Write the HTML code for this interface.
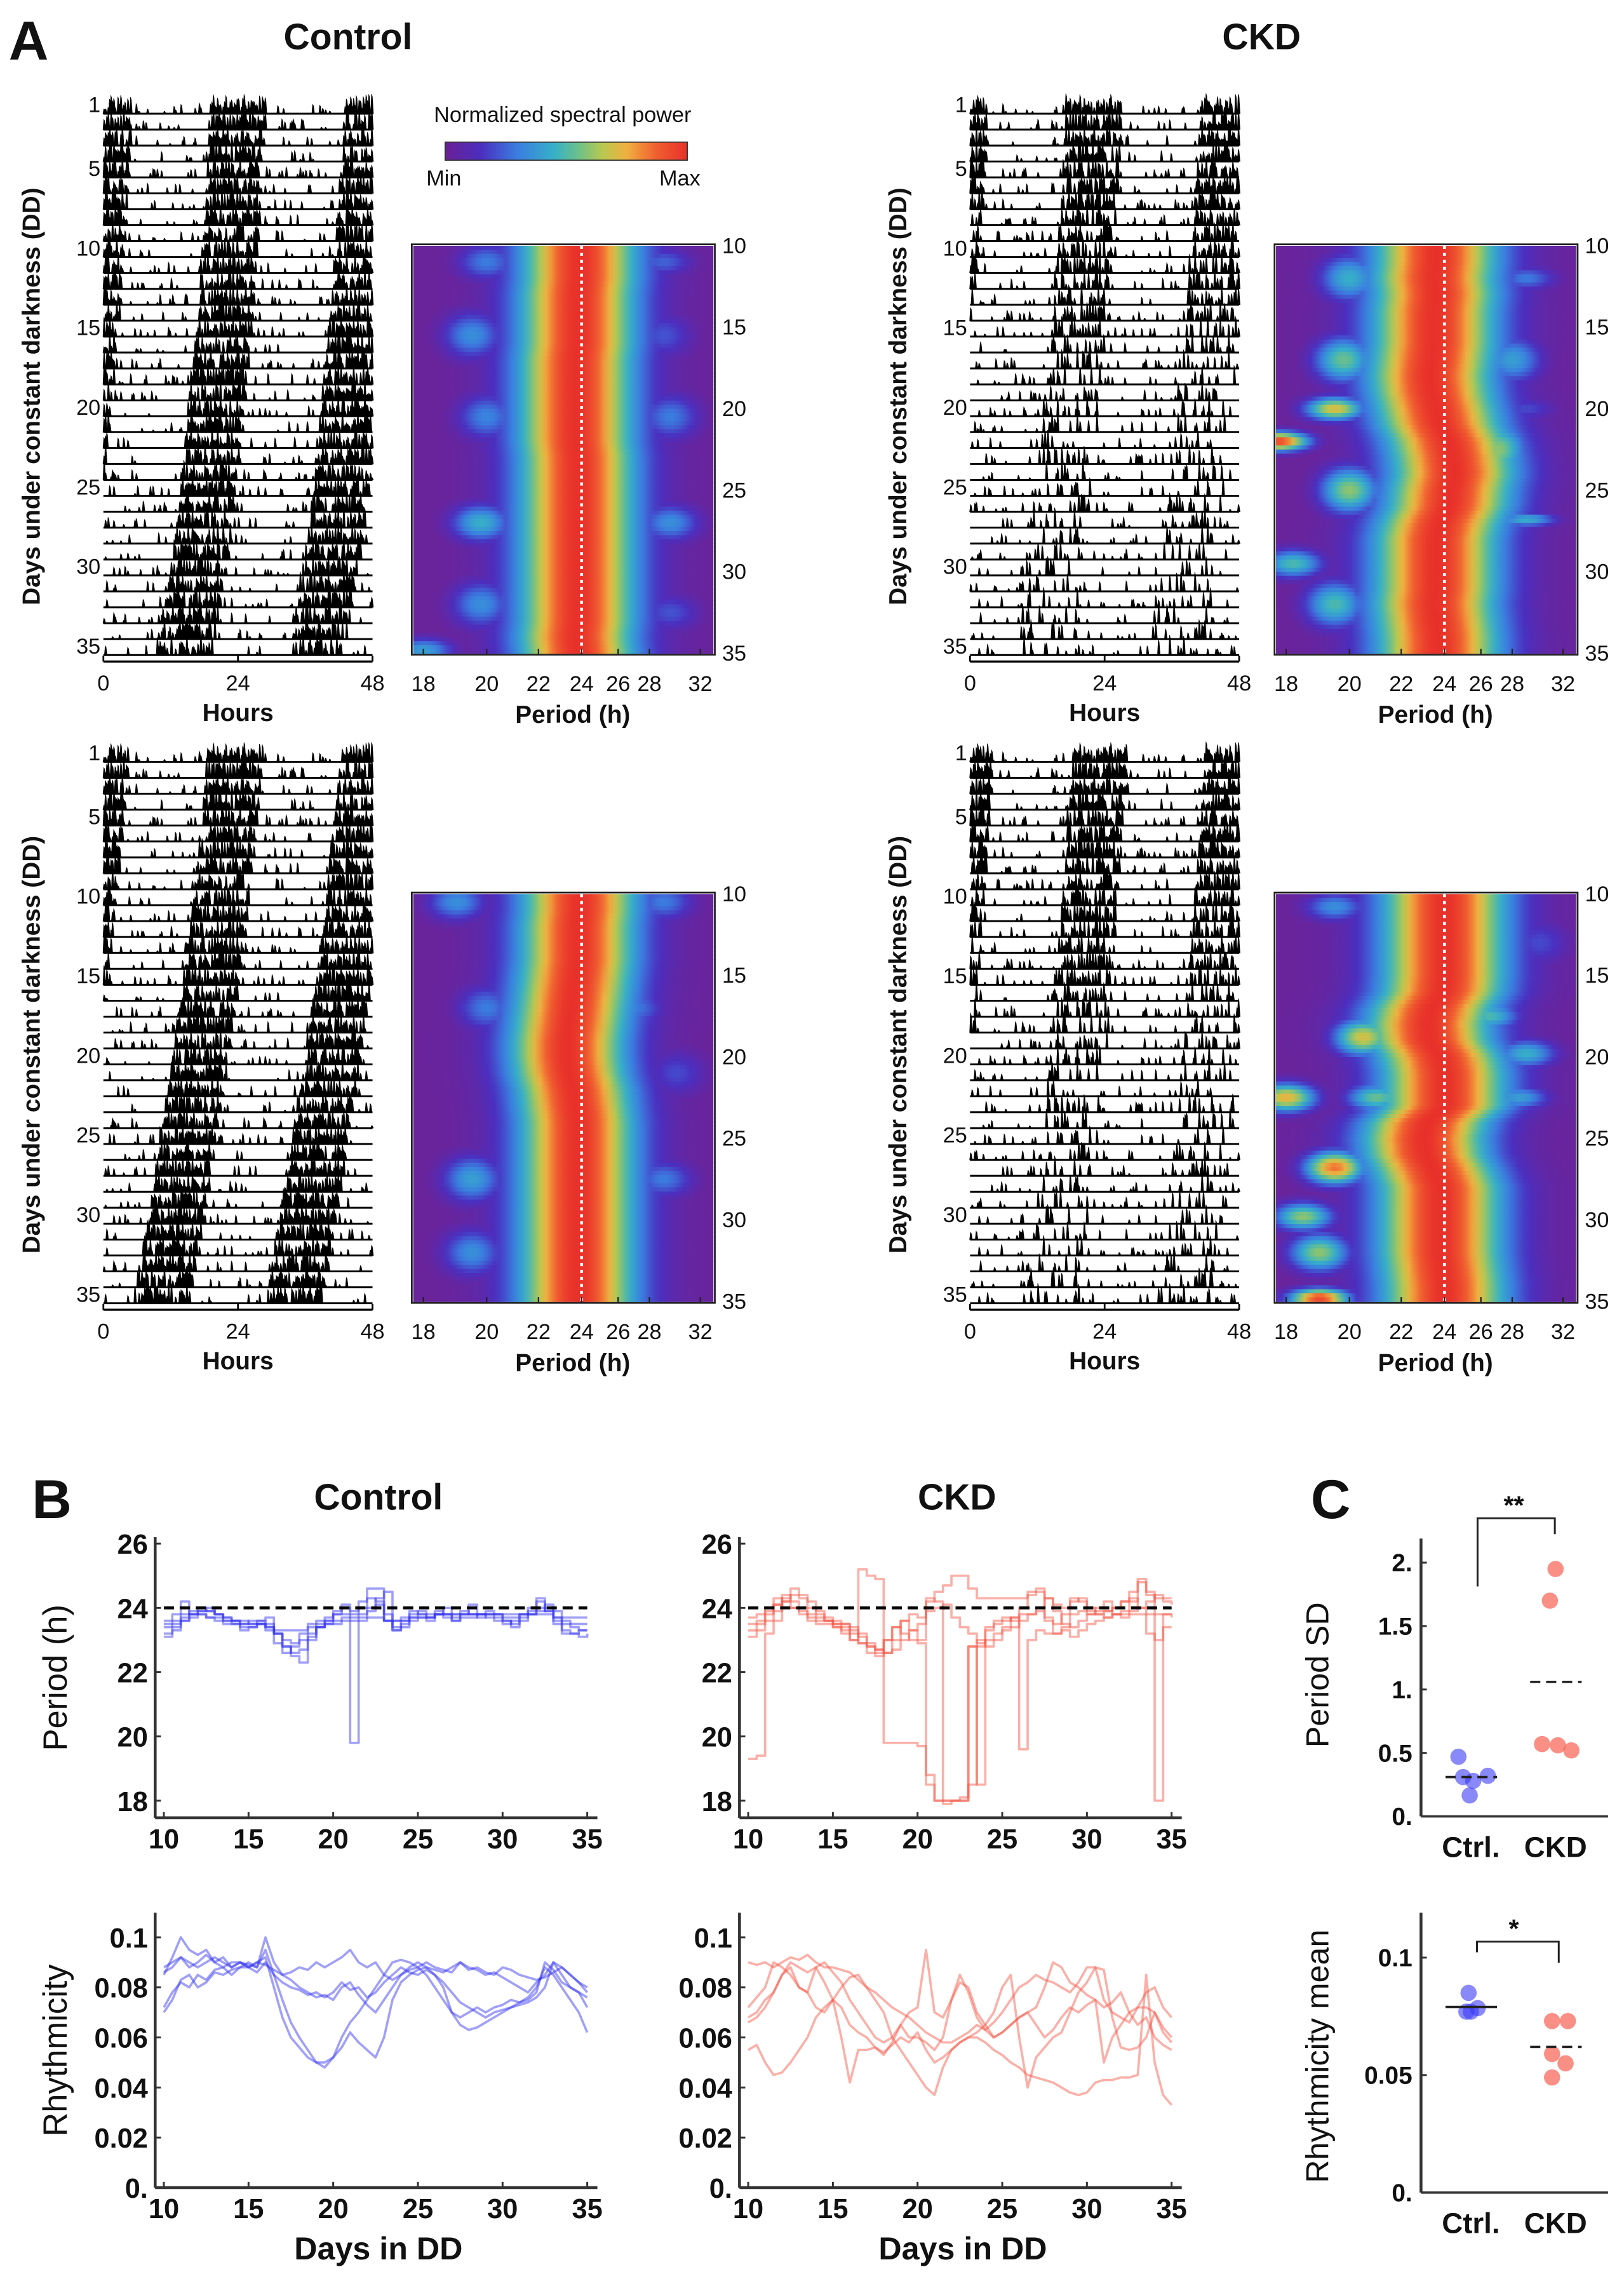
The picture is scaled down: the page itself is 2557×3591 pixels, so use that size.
<!DOCTYPE html>
<html><head><meta charset="utf-8">
<style>
html,body{margin:0;padding:0;background:#fff;}
svg{display:block;}
text{font-family:"Liberation Sans",Arial,sans-serif;fill:#111;}
.b{font-weight:bold;}
</style></head>
<body>
<svg id="fig" xmlns="http://www.w3.org/2000/svg" width="2557" height="3591" viewBox="0 0 1120 1573" preserveAspectRatio="none">
<rect x="0" y="0" width="1120" height="1573" fill="#fff"/>
<defs>
<linearGradient id="cbar" x1="0" x2="1" y1="0" y2="0">
<stop offset="0" stop-color="#6a1f96"/><stop offset="0.15" stop-color="#4a2fc0"/><stop offset="0.3" stop-color="#3a7ee0"/><stop offset="0.45" stop-color="#36b0c8"/><stop offset="0.55" stop-color="#6cc08a"/><stop offset="0.65" stop-color="#b8c850"/><stop offset="0.75" stop-color="#f0b040"/><stop offset="0.87" stop-color="#f06030"/><stop offset="1" stop-color="#e8302a"/>
</linearGradient>
</defs>
<text x="6" y="41" font-size="38" class="b">A</text>
<text x="240" y="34" font-size="25" class="b" text-anchor="middle">Control</text>
<text x="870" y="34" font-size="25" class="b" text-anchor="middle">CKD</text>
<text x="388" y="84" font-size="15" text-anchor="middle">Normalized spectral power</text>
<rect x="307" y="98" width="167" height="12.5" fill="url(#cbar)" stroke="#333" stroke-width="0.8"/>
<text x="294" y="128" font-size="15">Min</text>
<text x="483" y="128" font-size="15" text-anchor="end">Max</text>

<text x="22" y="1047" font-size="38" class="b">B</text>
<text x="261" y="1041" font-size="25" class="b" text-anchor="middle">Control</text>
<text x="660" y="1041" font-size="25" class="b" text-anchor="middle">CKD</text>
<text x="904" y="1047" font-size="38" class="b">C</text>
<g id="charts"></g>
</svg>
<script>
// ---------- DATA ----------
const actoOnsetCtrl1=[19,18.8,18.7,18.5,18.3,18.2,18,17.8,17.6,17.4,17.2,17,16.8,16.6,16.4,16,15.8,15.5,15.2,15,14.8,14.5,14.3,14,13.7,13.3,13,12.7,12.4,12,11.5,11,10.5,10,9.5];
const actoOnsetCtrl2=[18.5,18.2,18,17.7,17.4,17,16.8,16.5,16.2,16,15.7,15.4,15,14.6,14.2,13.8,13.4,13,12.6,12.2,11.8,11.4,11,10.5,10,9.6,9.2,8.8,8.4,8,7.5,7,6.5,6,5.5];
const actoOnsetCkd1=[17,17,16.8,16.6,16.5,16.3,16,15.8,15.6,15.4,15.2,15,14.8,14.6,14.3,14,13.8,13.5,13.2,13,12.8,12.5,12.2,12,11.7,11.4,11,10.7,10.4,10,9.7,9.4,9,8.7,8.4];
const actoOnsetCkd2=[18,17.8,17.6,17.4,17.2,17,16.8,16.6,16.4,16.2,16,15.8,15.6,15.4,15.2,15,14.8,14.6,14.4,14.2,14,13.7,13.4,13.1,12.8,12.5,12.2,11.9,11.6,11.3,11,10.7,10.4,10.1,9.8];
const actoDensCtrl1=[0.85,0.85,0.85,0.85,0.85,0.85,0.85,0.85,0.85,0.85,0.85,0.85,0.85,0.85,0.85,0.85,0.85,0.85,0.85,0.85,0.85,0.85,0.85,0.85,0.85,0.85,0.8,0.8,0.8,0.8,0.8,0.8,0.8,0.8,0.75];
const actoDensCtrl2=[0.85,0.85,0.85,0.85,0.85,0.85,0.85,0.85,0.85,0.85,0.85,0.85,0.85,0.85,0.85,0.85,0.85,0.85,0.85,0.85,0.85,0.85,0.85,0.85,0.85,0.85,0.85,0.85,0.85,0.85,0.85,0.85,0.85,0.85,0.85];
const actoDensCkd1=[0.85,0.85,0.85,0.85,0.8,0.8,0.8,0.75,0.75,0.7,0.6,0.6,0.55,0.5,0.45,0.4,0.35,0.32,0.3,0.28,0.28,0.25,0.25,0.26,0.26,0.25,0.25,0.25,0.26,0.26,0.25,0.25,0.25,0.22,0.22];
const actoDensCkd2=[0.9,0.9,0.85,0.85,0.85,0.85,0.85,0.8,0.8,0.75,0.7,0.65,0.6,0.55,0.55,0.5,0.45,0.4,0.35,0.32,0.3,0.28,0.28,0.28,0.25,0.25,0.25,0.25,0.25,0.25,0.25,0.26,0.26,0.25,0.25];

const hmPeak1=[23.9,23.9,23.9,23.8,23.8,23.8,23.8,23.7,23.7,23.7,23.7,23.7,23.7,23.8,23.8,23.8,23.8,23.8,23.8,23.8,23.8,23.8,23.8,23.8,23.7,23.8];
const hmPeak2=[23.9,23.9,23.8,23.8,23.8,23.7,23.6,23.5,23.4,23.3,23.3,23.4,23.6,23.7,23.8,23.8,23.8,23.8,23.8,23.8,23.8,23.8,23.8,23.8,23.8,23.8];
const hmPeak3=[23.6,23.6,23.5,23.6,23.5,23.5,23.5,23.4,23.3,23.4,23.6,23.8,24.2,24.4,24.5,24.3,24.2,23.8,23.6,23.6,23.6,23.6,23.5,23.6,23.7,23.7];
const hmPeak4=[24,24,24,24,24,24,23.9,23.4,23.2,23.3,23.8,24,24,24,23.2,23.0,23.1,23.5,23.8,23.8,23.8,23.8,23.8,23.9,24,24];
const hmBlobDay1=[11,15.5,20.5,27,32,11,15.5,20.5,27,32.5,34.8];
const hmBlobPer1=[20,19.5,20,19.8,19.8,29,29,29.5,29.5,29.5,18];
const hmBlobAmp1=[0.3,0.35,0.32,0.45,0.35,0.25,0.22,0.3,0.35,0.22,0.4];
const hmBlobSd1=[0.8,1,1,0.8,1,0.6,1,1,0.8,0.8,0.5];
const hmBlobDay2=[10.5,17,27.5,32,10.5,27.5,17,21];
const hmBlobPer2=[19,20,19.5,19.5,29,29,27,30];
const hmBlobAmp2=[0.35,0.3,0.4,0.35,0.3,0.3,0.3,0.2];
const hmBlobSd2=[0.8,1,1,1,0.8,0.8,0.8,1];
const hmBlobDay3=[12,17,20,22,25,29.5,32,17,22.5,26.8,20,12];
const hmBlobPer3=[20,19.8,19.5,17.8,20,18.2,19.5,28,27,29,29,29];
const hmBlobAmp3=[0.45,0.55,0.72,0.95,0.6,0.5,0.5,0.4,0.6,0.45,0.2,0.3];
const hmBlobSd3=[1,1,0.5,0.4,1,0.6,1,1,1.2,0.3,0.5,0.5];
const hmBlobDay4=[10.8,18.8,22.5,22.5,26.8,26.8,29.8,32,34.8,17.5,19.8,22.5,13];
const hmBlobPer4=[19.5,20.5,18,21,19.5,22,18.5,19,19,26.5,29,28.5,30];
const hmBlobAmp4=[0.35,0.7,0.75,0.55,0.85,0.6,0.6,0.6,0.95,0.5,0.45,0.4,0.2];
const hmBlobSd4=[0.6,0.8,0.6,0.6,0.7,0.8,0.6,0.8,0.4,0.6,0.6,0.5,1];
const hmPeriodTicks=[18,20,22,24,26,28,32];
const hmDayTicks=[10,15,20,25,30,35];
const actoDayTicks=[1,5,10,15,20,25,30,35];
const actoHourTicks=[0,24,48];

const periodCtrl1=[23.2,23.4,23.7,23.8,23.8,23.7,23.6,23.5,23.5,23.3,23.4,23.5,23.3,22.9,22.6,22.8,23.2,23.5,23.6,23.7,23.8,23.8,19.8,23.7,23.9,24.3,24.5,23.3,23.4,23.6,23.7,23.7,23.8,23.7,23.6,23.7,23.7,23.8,23.7,23.6,23.5,23.6,23.7,23.8,23.9,24.1,23.9,23.6,23.4,23.3,23.3];
const periodCtrl2=[23.6,23.8,24.2,23.8,23.9,24.0,23.8,23.6,23.6,23.5,23.6,23.6,23.4,23.2,22.8,22.5,22.3,23.0,23.5,23.6,23.8,24.0,23.8,24.2,24.6,24.6,23.6,23.3,23.5,23.8,23.9,23.7,23.8,24.0,23.6,23.8,24.1,23.8,23.8,23.7,23.6,23.4,23.6,23.8,24.2,23.9,23.5,23.2,23.2,23.3,23.3];
const periodCtrl3=[23.4,23.5,23.6,23.7,23.8,23.7,23.7,23.6,23.6,23.5,23.5,23.5,23.5,23.3,23.3,23.3,23.3,23.4,23.4,23.5,23.5,23.6,23.6,23.6,23.7,23.7,23.6,23.6,23.7,23.7,23.7,23.7,23.8,23.8,23.8,23.8,23.8,23.8,23.8,23.8,23.8,23.8,23.8,23.8,23.8,23.8,23.7,23.7,23.7,23.7,23.7];
const periodCtrl4=[23.1,23.3,23.6,23.9,24.0,23.9,23.8,23.7,23.5,23.4,23.4,23.6,23.7,23.2,22.8,22.6,22.7,23.1,23.4,23.6,23.9,24.1,23.9,24.0,24.3,24.2,23.6,23.4,23.6,23.9,23.8,23.6,23.9,23.8,23.7,23.9,23.8,23.7,23.9,23.8,23.6,23.5,23.8,24.0,24.3,24.0,23.6,23.3,23.2,23.1,23.2];
const periodCtrl5=[23.5,23.6,23.8,23.8,23.9,23.9,23.8,23.7,23.6,23.6,23.5,23.5,23.4,23.2,23.0,22.9,23.0,23.2,23.4,23.5,23.6,23.7,23.7,23.8,24.0,24.1,23.8,23.6,23.6,23.7,23.8,23.8,23.8,23.8,23.8,23.8,23.8,23.8,23.8,23.8,23.7,23.7,23.8,23.9,24.0,23.9,23.7,23.5,23.5,23.5,23.5];
const periodCkd1=[19.3,19.4,23.2,23.6,24.2,24.4,24.3,24.0,23.8,23.6,23.5,23.5,23.4,23.2,22.9,22.7,22.6,22.7,23.0,23.3,23.5,24.2,24.5,24.7,25.0,25.0,24.6,24.3,24.3,24.3,24.3,24.3,24.3,24.4,24.6,24.3,24.1,24.0,24.2,24.3,24.0,23.9,23.9,24.0,24.2,24.5,24.8,24.4,24.3,24.3,24.3];
const periodCkd2=[23.5,23.6,23.9,24.3,24.2,24.0,23.9,23.7,23.6,23.6,23.5,23.3,23.0,25.2,25.0,24.9,19.8,19.8,19.8,19.8,19.7,18.8,18.0,18.0,18.0,18.1,22.8,22.8,23.0,23.2,23.3,23.4,23.6,23.8,23.9,23.6,23.2,23.3,23.1,23.3,23.5,23.6,23.7,23.8,23.8,23.8,23.8,23.8,23.8,23.8,23.8];
const periodCkd3=[23.7,23.8,24.0,24.1,24.0,24.0,23.8,23.6,23.5,23.5,23.4,23.2,23.0,22.9,22.8,22.7,23.0,23.4,23.2,23.0,22.9,18.5,18.0,17.9,18.0,18.0,18.5,23.0,22.8,23.0,23.4,23.7,23.8,23.8,24.0,24.3,23.9,23.5,23.4,23.6,23.8,24.0,24.2,23.8,23.7,23.9,24.0,24.2,24.4,24.2,24.1];
const periodCkd4=[23.3,23.5,23.8,24.1,24.4,24.2,24.0,23.8,23.7,23.7,23.6,23.5,23.2,22.9,22.6,22.6,23.0,23.4,23.6,23.3,23.0,24.3,24.2,18.0,18.0,18.0,22.8,18.5,23.3,23.5,23.7,23.6,24.0,24.5,24.5,23.7,23.5,23.8,24.3,24.2,23.9,23.8,23.9,24.0,24.2,24.3,24.0,23.2,23.0,23.4,23.4];
const periodCkd5=[23.1,23.3,23.6,23.9,24.3,24.6,24.4,24.2,23.9,23.6,23.4,23.4,23.3,23.1,22.8,22.5,22.6,23.0,23.6,23.8,23.7,23.9,24.0,24.1,23.7,23.4,23.2,22.9,23.4,23.6,23.6,23.7,19.6,23.0,23.3,23.2,23.2,23.4,23.8,23.9,23.8,23.8,23.7,23.8,23.9,24.2,24.9,24.5,18.0,23.8,23.7];
const rhythmCtrl1=[0.086,0.088,0.092,0.09,0.088,0.09,0.092,0.09,0.088,0.09,0.088,0.09,0.089,0.087,0.085,0.086,0.088,0.087,0.09,0.088,0.09,0.092,0.095,0.09,0.088,0.09,0.085,0.083,0.085,0.088,0.09,0.088,0.087,0.086,0.088,0.09,0.087,0.088,0.086,0.085,0.088,0.087,0.085,0.084,0.083,0.084,0.086,0.088,0.085,0.082,0.078];
const rhythmCtrl2=[0.088,0.09,0.092,0.088,0.09,0.093,0.09,0.088,0.09,0.09,0.088,0.09,0.092,0.08,0.068,0.06,0.056,0.052,0.05,0.05,0.052,0.06,0.066,0.07,0.075,0.08,0.085,0.09,0.091,0.09,0.088,0.085,0.08,0.075,0.07,0.068,0.07,0.072,0.07,0.072,0.073,0.075,0.074,0.076,0.08,0.088,0.085,0.08,0.075,0.07,0.062];
const rhythmCtrl3=[0.07,0.075,0.083,0.085,0.08,0.082,0.086,0.085,0.087,0.088,0.088,0.086,0.09,0.085,0.075,0.066,0.06,0.055,0.05,0.048,0.052,0.056,0.062,0.058,0.055,0.052,0.06,0.075,0.082,0.085,0.087,0.088,0.085,0.08,0.07,0.065,0.063,0.064,0.066,0.068,0.07,0.072,0.073,0.074,0.076,0.08,0.09,0.085,0.08,0.078,0.072];
const rhythmCtrl4=[0.072,0.078,0.082,0.08,0.085,0.083,0.087,0.088,0.085,0.088,0.09,0.088,0.095,0.085,0.082,0.08,0.079,0.077,0.078,0.076,0.078,0.082,0.079,0.08,0.076,0.078,0.082,0.085,0.088,0.086,0.085,0.087,0.085,0.082,0.078,0.074,0.072,0.07,0.068,0.07,0.071,0.072,0.074,0.075,0.078,0.09,0.087,0.082,0.08,0.078,0.076];
const rhythmCtrl5=[0.085,0.092,0.1,0.095,0.093,0.095,0.09,0.092,0.088,0.09,0.089,0.088,0.1,0.09,0.085,0.083,0.08,0.078,0.076,0.077,0.075,0.08,0.082,0.077,0.073,0.07,0.075,0.08,0.085,0.087,0.088,0.09,0.088,0.087,0.086,0.09,0.088,0.087,0.085,0.086,0.084,0.082,0.08,0.078,0.082,0.085,0.09,0.088,0.085,0.082,0.08];
const rhythmCkd1=[0.09,0.089,0.09,0.088,0.09,0.092,0.091,0.093,0.09,0.088,0.088,0.087,0.086,0.083,0.08,0.078,0.075,0.072,0.07,0.068,0.065,0.062,0.06,0.058,0.058,0.06,0.062,0.065,0.063,0.066,0.07,0.075,0.08,0.082,0.085,0.083,0.082,0.08,0.078,0.082,0.088,0.088,0.075,0.07,0.068,0.066,0.072,0.078,0.08,0.072,0.068];
const rhythmCkd2=[0.055,0.057,0.05,0.045,0.046,0.05,0.055,0.06,0.068,0.072,0.075,0.08,0.084,0.085,0.08,0.075,0.07,0.06,0.055,0.05,0.045,0.04,0.037,0.048,0.055,0.058,0.06,0.06,0.058,0.055,0.053,0.05,0.048,0.045,0.044,0.043,0.042,0.04,0.038,0.037,0.038,0.042,0.043,0.043,0.044,0.044,0.045,0.085,0.05,0.037,0.033];
const rhythmCkd3=[0.068,0.07,0.075,0.078,0.085,0.09,0.088,0.086,0.088,0.082,0.075,0.06,0.042,0.055,0.055,0.056,0.054,0.057,0.06,0.058,0.062,0.055,0.05,0.052,0.055,0.058,0.06,0.062,0.065,0.07,0.08,0.085,0.06,0.04,0.052,0.056,0.06,0.062,0.07,0.078,0.082,0.088,0.087,0.068,0.056,0.055,0.056,0.06,0.07,0.064,0.06];
const rhythmCkd4=[0.072,0.076,0.08,0.09,0.088,0.085,0.08,0.078,0.088,0.09,0.086,0.082,0.075,0.07,0.065,0.06,0.058,0.06,0.065,0.07,0.072,0.095,0.07,0.068,0.075,0.085,0.078,0.068,0.063,0.06,0.062,0.065,0.068,0.07,0.072,0.08,0.09,0.088,0.082,0.08,0.077,0.075,0.05,0.06,0.065,0.07,0.072,0.072,0.07,0.062,0.058];
const rhythmCkd5=[0.066,0.068,0.072,0.078,0.085,0.088,0.08,0.078,0.072,0.07,0.075,0.072,0.065,0.062,0.06,0.056,0.053,0.058,0.065,0.06,0.06,0.058,0.055,0.06,0.075,0.082,0.08,0.07,0.065,0.06,0.062,0.065,0.068,0.07,0.065,0.06,0.063,0.068,0.072,0.07,0.073,0.075,0.072,0.074,0.078,0.07,0.065,0.068,0.06,0.057,0.055];
const dayTicks=[10,15,20,25,30,35];
const periodTicks=[18,20,22,24,26];
const rhythmTicks=[0,0.02,0.04,0.06,0.08,0.1];
const rhythmTickLabels=["0.","0.02","0.04","0.06","0.08","0.1"];

const sdCtrl=[0.47,0.31,0.28,0.165,0.32];
const sdCtrlJitter=[-8.6,-5.4,1.6,-0.8,11.7];
const sdCkd=[1.95,1.7,0.57,0.56,0.52];
const sdCkdJitter=[0,-3.9,-9.3,1.6,10.9];
const sdMeans=[0.31,1.06];
const rmCtrl=[0.085,0.077,0.077,0.0785];
const rmCtrlJitter=[-1.6,-3.1,0,4.7];
const rmCkd=[0.073,0.073,0.059,0.055,0.049];
const rmCkdJitter=[-2.4,8.5,-2.4,6.9,-2.4];
const rmMeans=[0.079,0.062];
const sdTicks=[0,0.5,1,1.5,2];
const sdTickLabels=["0.","0.5","1.","1.5","2."];
const rmTicks=[0,0.05,0.1];
const rmTickLabels=["0.","0.05","0.1"];

// ---------- HELPERS ----------
const NS="http://www.w3.org/2000/svg";
const root=document.getElementById('charts');
const defs=document.querySelector('defs');
function mk(tag,attrs,parent){const e=document.createElementNS(NS,tag);for(const k in attrs)e.setAttribute(k,attrs[k]);(parent||root).appendChild(e);return e;}
function hsh(a,b,c){const x=Math.sin(a*127.1+b*311.7+c*74.7)*43758.5453;return x-Math.floor(x);}
const cmapStops=[[0,[110,34,150]],[0.15,[74,47,192]],[0.3,[58,126,224]],[0.45,[54,176,200]],[0.55,[108,192,138]],[0.65,[184,200,80]],[0.75,[240,176,64]],[0.87,[240,96,48]],[1,[232,48,42]]];
function cmap(v){v=Math.max(0,Math.min(1,v));for(let i=1;i<cmapStops.length;i++){if(v<=cmapStops[i][0]){const a=cmapStops[i-1],b=cmapStops[i];const t=(v-a[0])/(b[0]-a[0]);const c=a[1].map((x,j)=>Math.round(x+(b[1][j]-x)*t));return 'rgb('+c.join(',')+')';}}return 'rgb(232,48,42)';}

// ---------- ACTOGRAM ----------
function actogram(x0,y0,onset,dens,id){
  const g=mk('g',{});
  
  
  const W=185.6, rowH=10.98, L=10;
  const hx=h=>x0+h/48*W;
  for(let k=0;k<35;k++){
    const base=y0+k*rowH;
    let d='';
    const nb=192;
    for(let b=0;b<nb;b++){
      const t=b*0.25;
      const day=k+(t>=24?1:0);
      const hod=t%24;
      const on=onset[Math.min(day,34)]-(day>34?0.3:0);
      const prevOn=day>0?onset[Math.min(day-1,34)]:on;
      const de=dens[Math.min(day,34)];
      const inBand=(hod>=on&&hod<on+L)||(hod+24>=prevOn&&hod+24<prevOn+L);
      const r=hsh(k,b,id.length), r2=hsh(b,k,3);
      let h=0;
      if(inBand){ if(r<de) h=3+r2*11; }
      else if(r<0.14){ h=1.5+r2*6; }
      if(h>0){const x=hx(t);d+='M'+(x-0.3).toFixed(2)+','+base+'L'+(x+0.3).toFixed(2)+','+(base-h).toFixed(2)+'L'+(x+0.9).toFixed(2)+','+(base-h*0.85).toFixed(2)+'L'+(x+1.6).toFixed(2)+','+base+'Z';}
    }
    const ln=mk('line',{x1:x0,x2:x0+W,y1:base,y2:base,stroke:'#000','stroke-width':1.3},g);
    
    
    if(d){const p=mk('path',{d:d,fill:'#000',stroke:'#000','stroke-width':0.3},g);
      
      }
  }
  actoDayTicks.forEach(dv=>{
    const t=mk('text',{x:x0-2,y:y0+(dv-1)*rowH-1,'font-size':15,'text-anchor':'end'},g);t.textContent=dv;
    
    
  });
  const axY=y0+34*rowH+4.5;
  const ax=mk('line',{x1:x0,x2:x0+W,y1:axY,y2:axY,stroke:'#000','stroke-width':1.5},g);
  
  
  actoHourTicks.forEach(hv=>{
    const tk=mk('line',{x1:hx(hv),x2:hx(hv),y1:axY,y2:axY-4,stroke:'#000','stroke-width':1.2},g);
    
    
    const t=mk('text',{x:hx(hv),y:axY+20,'font-size':15,'text-anchor':'middle'},g);t.textContent=hv;
    
    
  });
  const xt=mk('text',{x:x0+W/2,y:axY+41,'font-size':17,'text-anchor':'middle','class':'b'},g);xt.textContent='Hours';
  
  
  const yt=mk('text',{transform:'translate('+(x0-44)+','+(y0+195)+') rotate(-90)','font-size':17,'text-anchor':'middle','class':'b'},g);yt.textContent='Days under constant darkness (DD)';
  
  
}

// ---------- HEATMAP ----------
function heatmap(x0,y0,peak,bDay,bPer,bAmp,bSd,sig,id){
  const g=mk('g',{});
  
  
  const W=207,H=281;
  const px=p=>7+(1/18-1/p)*7857;
  const dy=d=>(d-10)/25*H;
  const nCols=52;
  const step=0.25;
  for(let d=10;d<35-1e-9;d+=step){
    const dc=d+step/2;
    const i=Math.min(Math.floor(dc-10),24), f=(dc-10)-i;
    const pk=peak[i]+(peak[Math.min(i+1,25)]-peak[i])*f;
    const gid='hg'+id+'_'+Math.round(d*100);
    const lg=mk('linearGradient',{id:gid,x1:0,x2:1,y1:0,y2:0},defs);
    for(let c=0;c<=nCols;c++){
      const x=c/nCols*W;
      let v=0.02+0.98*Math.exp(-Math.pow(x-px(pk),2)/(2*sig*sig));
      for(let j=0;j<bDay.length;j++){
        const b=bAmp[j]*Math.exp(-Math.pow(x-px(bPer[j]),2)/(2*14*14)-Math.pow(dc-bDay[j],2)/(2*bSd[j]*bSd[j]));
        if(b>v)v=b;
      }
      mk('stop',{offset:(c/nCols).toFixed(4),'stop-color':cmap(v)},lg);
    }
    const r=mk('rect',{x:x0,y:(y0+dy(d)).toFixed(2),width:W,height:(step/25*H+0.4).toFixed(2),fill:'url(#'+gid+')'},g);
    
    
  }
  const fr=mk('rect',{x:x0-1,y:y0-1,width:W+2,height:H+2,fill:'none',stroke:'#222','stroke-width':1.2},g);
  
  
  const dl=mk('line',{x1:x0+px(24),x2:x0+px(24),y1:y0,y2:y0+H,stroke:'#fff','stroke-width':2,'stroke-dasharray':'2.2,2.6'},g);
  
  
  hmPeriodTicks.forEach(p=>{
    const t=mk('text',{x:x0+px(p),y:y0+H+26,'font-size':15,'text-anchor':'middle'},g);t.textContent=p;
    
    
    const tk=mk('line',{x1:x0+px(p),x2:x0+px(p),y1:y0+H+1,y2:y0+H-3,stroke:'#222','stroke-width':1},g);
    
    
  });
  hmDayTicks.forEach(dv=>{
    const t=mk('text',{x:x0+W+6,y:y0+dy(dv)+5,'font-size':15},g);t.textContent=dv;
    
    
  });
  const xt=mk('text',{x:x0+110,y:y0+H+48,'font-size':17,'text-anchor':'middle','class':'b'},g);xt.textContent='Period (h)';
  
  
}

actogram(71.3,78.4,actoOnsetCtrl1,actoDensCtrl1,'ctrl1');
actogram(71.3,525.4,actoOnsetCtrl2,actoDensCtrl2,'ctrl2');
actogram(669,78.4,actoOnsetCkd1,actoDensCkd1,'ckd1');
actogram(669,525.4,actoOnsetCkd2,actoDensCkd2,'ckd2');
heatmap(285,169.5,hmPeak1,hmBlobDay1,hmBlobPer1,hmBlobAmp1,hmBlobSd1,28,'1');
heatmap(285,616.5,hmPeak2,hmBlobDay2,hmBlobPer2,hmBlobAmp2,hmBlobSd2,28,'2');
heatmap(880,169.5,hmPeak3,hmBlobDay3,hmBlobPer3,hmBlobAmp3,hmBlobSd3,30,'3');
heatmap(880,616.5,hmPeak4,hmBlobDay4,hmBlobPer4,hmBlobAmp4,hmBlobSd4,30,'4');

// ---------- PANEL B ----------
function lineChart(dx,kind,series,color,id){
  const g=mk('g',{});
  
  
  const xd=d=>113+dx+(d-10)*11.68;
  let yv,top,bot,ticks,labels;
  if(kind==='period'){yv=v=>1064.5+(26-v)*22.16;top=1060;bot=1253.6;ticks=periodTicks;labels=periodTicks.map(String);}
  else{yv=v=>1508.6-v*1726;top=1319;bot=1508.6;ticks=rhythmTicks;labels=rhythmTickLabels;}
  const ax=dx+107;
  series.forEach((s,si)=>{
    let d='';
    s.forEach((v,i)=>{
      const x=xd(10+i*0.5), y=yv(v);
      if(kind==='period'){ if(i===0) d+='M'+x+','+y; else d+='V'+y.toFixed(2); if(i===s.length-1) d+='H'+xd(35); else d+='H'+xd(10+(i+1)*0.5);}
      else d+=(i?'L':'M')+x.toFixed(2)+','+y.toFixed(2);
    });
    const p=mk('path',{d:d,fill:'none',stroke:color,'stroke-width':1.6,'stroke-opacity':0.45,'stroke-linejoin':'round'},g);
    
    
  });
  if(kind==='period'){
    const rl=mk('line',{x1:xd(10),x2:xd(35),y1:yv(24),y2:yv(24),stroke:'#000','stroke-width':2,'stroke-dasharray':'7,4'},g);
    
    
  }
  const ya=mk('line',{x1:ax,x2:ax,y1:top,y2:bot,stroke:'#333','stroke-width':2},g);
  
  
  const xa=mk('line',{x1:ax,x2:ax+305,y1:bot,y2:bot,stroke:'#333','stroke-width':2},g);
  
  
  ticks.forEach((v,i)=>{
    const tk=mk('line',{x1:ax,x2:ax+4,y1:yv(v),y2:yv(v),stroke:'#333','stroke-width':1.3},g);
    
    
    const t=mk('text',{x:ax-5,y:yv(v)+7,'font-size':19,'text-anchor':'end','class':'b'},g);t.textContent=labels[i];
    
    
  });
  dayTicks.forEach(dv=>{
    const tk=mk('line',{x1:xd(dv),x2:xd(dv),y1:bot,y2:bot-4,stroke:'#333','stroke-width':1.3},g);
    
    
    const t=mk('text',{x:xd(dv),y:bot+21,'font-size':19,'text-anchor':'middle','class':'b'},g);t.textContent=dv;
    
    
  });
  if(dx===0){
    const yt=mk('text',{transform:'translate(46,'+(kind==='period'?1157:1414)+') rotate(-90)','font-size':23,'text-anchor':'middle'},g);
    yt.textContent=kind==='period'?'Period (h)':'Rhythmicity';
    
    
  }
  if(kind==='rhythm'){
    const xt=mk('text',{x:dx+261,y:1558,'font-size':22,'text-anchor':'middle','class':'b'},g);xt.textContent='Days in DD';
    
    
  }
}
const blue='#2c2cf0', red='#f5503f';
lineChart(0,'period',[periodCtrl1,periodCtrl2,periodCtrl3,periodCtrl4,periodCtrl5],blue,'control');
lineChart(403,'period',[periodCkd1,periodCkd2,periodCkd3,periodCkd4,periodCkd5],red,'ckd');
lineChart(0,'rhythm',[rhythmCtrl1,rhythmCtrl2,rhythmCtrl3,rhythmCtrl4,rhythmCtrl5],blue,'control');
lineChart(403,'rhythm',[rhythmCkd1,rhythmCkd2,rhythmCkd3,rhythmCkd4,rhythmCkd5],red,'ckd');

// ---------- PANEL C ----------
function dotPlot(kind){
  const g=mk('g',{});
  
  
  const ax=980, xc=[1014.4,1072.8];
  let yv,top,bot,ticks,labels,ctrl,ckd,cj,kj,means,br,star,title,ty;
  if(kind==='period-sd'){yv=v=>1252.6-v*87.5;top=1061;bot=1252.6;ticks=sdTicks;labels=sdTickLabels;ctrl=sdCtrl;ckd=sdCkd;cj=sdCtrlJitter;kj=sdCkdJitter;means=sdMeans;br=[1019,1094,1047,1072.3,1058];star='**';title='Period SD';ty=1155;}
  else{yv=v=>1512-v*1620;top=1319;bot=1512;ticks=rmTicks;labels=rmTickLabels;ctrl=rmCtrl;ckd=rmCkd;cj=rmCtrlJitter;kj=rmCkdJitter;means=rmMeans;br=[1018.6,1346.3,1339,1075,1353.5];star='*';title='Rhythmicity mean';ty=1418;}
  const ya=mk('line',{x1:ax,x2:ax,y1:top,y2:bot,stroke:'#333','stroke-width':2},g);
  
  
  const xa=mk('line',{x1:ax,x2:1109,y1:bot,y2:bot,stroke:'#333','stroke-width':1.6},g);
  
  
  ticks.forEach((v,i)=>{
    const tk=mk('line',{x1:ax,x2:ax+4,y1:yv(v),y2:yv(v),stroke:'#333','stroke-width':1.3},g);
    
    
    const t=mk('text',{x:ax-6,y:yv(v)+6,'font-size':17,'text-anchor':'end','class':'b'},g);t.textContent=labels[i];
    
    
  });
  ['Ctrl.','CKD'].forEach((c,i)=>{
    const t=mk('text',{x:xc[i],y:bot+28,'font-size':20,'text-anchor':'middle','class':'b'},g);t.textContent=c;
    
    
  });
  ctrl.forEach((v,i)=>{
    const c=mk('circle',{cx:xc[0]+cj[i],cy:yv(v),r:5.6,fill:'#3a3af5','fill-opacity':0.6},g);
    
    
  });
  ckd.forEach((v,i)=>{
    const c=mk('circle',{cx:xc[1]+kj[i],cy:yv(v),r:5.6,fill:'#f86a5c','fill-opacity':0.75},g);
    
    
  });
  means.forEach((m,i)=>{
    const l=mk('line',{x1:xc[i]-17.5,x2:xc[i]+18,y1:yv(m),y2:yv(m),stroke:'#222','stroke-width':1.6,'stroke-dasharray':(kind==='rhythm-mean'&&i===0)?'none':'7,4'},g);
    
    
  });
  const b=mk('path',{d:'M'+br[0]+','+br[1]+'V'+br[2]+'H'+br[3]+'V'+br[4],fill:'none',stroke:'#222','stroke-width':1.3},g);
  
  
  const s=mk('text',{x:1044,y:br[2]-3,'font-size':18,'text-anchor':'middle','class':'b'},g);s.textContent=star;
  
  
  const yt=mk('text',{transform:'translate(916,'+ty+') rotate(-90)','font-size':22,'text-anchor':'middle'},g);yt.textContent=title;
  
  
}
dotPlot('period-sd');
dotPlot('rhythm-mean');
</script>
</body></html>
